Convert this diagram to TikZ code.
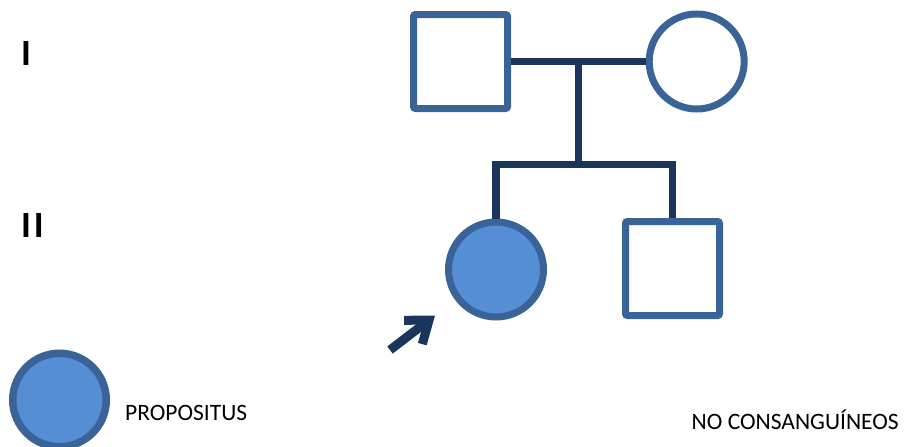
\documentclass[tikz,border=0pt]{standalone}
\usepackage{fontspec}
\setmainfont{Carlito}
\usetikzlibrary{arrows.meta}
\definecolor{edgeblue}{HTML}{3A6498}
\definecolor{fillblue}{HTML}{558ED5}
\definecolor{navy}{HTML}{1B365D}
\begin{document}
\begin{tikzpicture}[x=1pt,y=-1pt,
  male/.style={draw=edgeblue,line width=7pt,rounded corners=2pt,minimum size=94pt,inner sep=0pt,fill=white},
  female/.style={circle,draw=edgeblue,line width=7pt,minimum size=95pt,inner sep=0pt,fill=white},
  affected/.style={fill=fillblue},
  link/.style={draw=navy,line width=7.5pt,line join=miter},
  gen/.style={anchor=base west,inner sep=0pt,font=\fontsize{37}{40}\selectfont\bfseries},
  caption/.style={anchor=base west,inner sep=0pt,font=\fontsize{23.5}{28}\selectfont}]
\useasboundingbox (0,0) rectangle (905,447);

% generation labels
\node[gen] (genI) at (21,65.7) {I};
\node[gen] (genII) at (21,237.7) {I\kern2.8pt I};

% generation I
\node[male] (father) at (460.5,61.5) {};
\node[female] (mother) at (696.7,61.5) {};

% generation II
\node[female,affected] (daughter) at (496,269.5) {};
\node[male] (son) at (672.5,268.5) {};

% mating and sibship lines
\coordinate (mate) at (578.5,61.7);
\coordinate (sib) at (578.5,164.5);
\draw[link] (father.east |- mate) -- (mother.west |- mate);
\draw[link] (mate) -- (sib);
\draw[link] (daughter.north) |- (sib) -| (son.north);

% proband arrow
\coordinate (arrtail) at (390,350);
\coordinate (arrtip) at (435,315.5);
\draw[navy,line width=9pt,-{Straight Barb[length=20pt,width=30pt]}] (arrtail) -- (arrtip);

% legend
\node[female,affected,line width=7.5pt,minimum size=93.5pt] (legend) at (59.5,400) {};
\node[caption] (legendtext) at (125,420) {PROPOSITUS};
\node[caption] (note) at (691.5,429) {NO CONSANGUÍNEOS};
\end{tikzpicture}
\end{document}
